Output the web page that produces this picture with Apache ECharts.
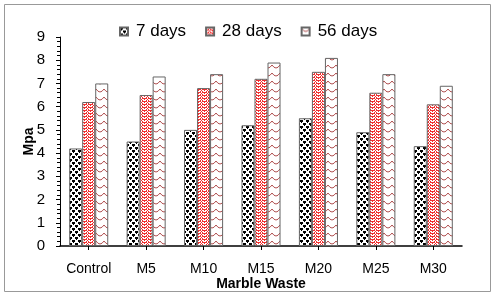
<!DOCTYPE html>
<html><head><meta charset="utf-8">
<script src="https://cdn.jsdelivr.net/npm/echarts@6/dist/echarts.min.js"></script>
<style>html,body{margin:0;padding:0;background:#fff}#c{width:495px;height:296px}</style>
</head><body><div id="c"></div>
<script>
const categories = ['Control','M5','M10','M15','M20','M25','M30'];
const days7  = [4.2, 4.5, 5.0, 5.2, 5.5, 4.9, 4.3];
const days28 = [6.2, 6.5, 6.8, 7.2, 7.5, 6.6, 6.1];
const days56 = [7.0, 7.3, 7.4, 7.9, 8.1, 7.4, 6.9];
const seriesNames = ['7 days','28 days','56 days'];

function mk(w,h,draw){const c=document.createElement('canvas');c.width=w;c.height=h;const g=c.getContext('2d');g.fillStyle='#fff';g.fillRect(0,0,w,h);draw(g);return c;}
const pDots = mk(6,6,g=>{g.fillStyle='#000';g.fillRect(0,0,3,2);g.fillRect(3,3,3,2);g.fillRect(1,2,1,1);g.fillRect(4,5,1,1);});
const pZig = mk(6,6,g=>{g.fillStyle='#f03030';
  for(let y=0;y<6;y++){for(let x=0;x<6;x++){if((x<3? (x+y)%3===0 : (y-x+12)%3===0) || y%3===2 && x%2===0) g.fillRect(x,y,1,1);}}});
const pWave = mk(8,8,g=>{g.strokeStyle='#b05050';g.lineWidth=1;g.beginPath();g.moveTo(0,1);g.quadraticCurveTo(4,7,8,1);g.stroke();});
const pats=[pDots,pZig,pWave].map(c=>({image:c,repeat:'repeat'}));
const datas=[days7,days28,days56];

const chart = echarts.init(document.getElementById('c'),null,{renderer:'canvas'});
chart.setOption({
  animation:false,
  textStyle:{fontFamily:'Liberation Sans, Arial, sans-serif'},
  graphic:[{type:'rect',shape:{x:4.5,y:4.5,width:486,height:287},style:{fill:'none',stroke:'#999',lineWidth:1},z:-1}],
  legend:{top:18,left:114,itemWidth:8,itemHeight:8,itemGap:19,icon:'rect',
    textStyle:{fontSize:17,color:'#000',padding:[0,0,0,3],fontFamily:'Liberation Sans, Arial, sans-serif'},
    data:seriesNames},
  grid:{left:60,right:33,top:37,bottom:50,containLabel:false},
  xAxis:{type:'category',data:categories,
    axisLine:{lineStyle:{color:'#000',width:1.5}},
    axisTick:{show:true,alignWithLabel:true,length:4,lineStyle:{color:'#000'}},
    axisLabel:{color:'#000',fontSize:14,margin:16,interval:0,hideOverlap:false},
    name:'Marble Waste',nameLocation:'middle',nameGap:31,nameMoveOverlap:false,
    nameTextStyle:{fontWeight:'bold',fontSize:14,color:'#000'}},
  yAxis:{type:'value',min:0,max:9,interval:1,
    axisLine:{show:true,lineStyle:{color:'#000',width:1}},
    axisTick:{show:true,length:4,lineStyle:{color:'#000'}},
    minorTick:{show:true,splitNumber:5,length:3,lineStyle:{color:'#000'}},
    splitLine:{show:false},
    axisLabel:{color:'#000',fontSize:15,margin:15},
    name:'Mpa',nameLocation:'middle',nameGap:24,nameRotate:90,nameMoveOverlap:false,
    nameTextStyle:{fontWeight:'bold',fontSize:14,color:'#000'}},
  series:seriesNames.map((n,i)=>({name:n,type:'bar',data:datas[i],
    barGap:'0%',barCategoryGap:'32%',
    itemStyle:{color:pats[i],borderColor:'#666',borderWidth:1}}))
});
</script></body></html>
